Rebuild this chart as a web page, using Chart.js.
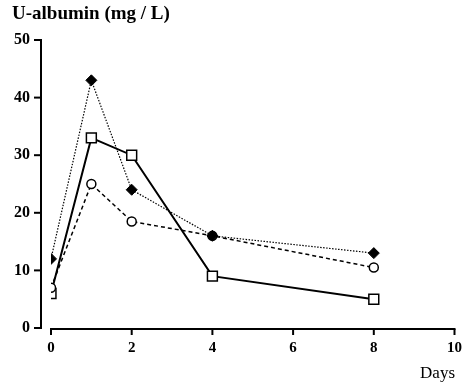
<!DOCTYPE html>
<html>
<head>
<meta charset="utf-8">
<script src="https://cdn.jsdelivr.net/npm/chart.js@4"></script>
<style>
  html, body { margin: 0; padding: 0; background: #fff; }
  #wrap { width: 465px; height: 389px; position: relative; }
</style>
</head>
<body>
<div id="wrap"><canvas id="chart"></canvas></div>
<script>
// Values
const days = [0, 1, 2, 4, 8];
const diamondSeries = [12, 43, 24, 16, 13];
const squareSeries = [6, 33, 30, 9, 5];
const circleSeries = [7, 25, 18.5, 16, 10.5];
const xTicks = [0, 2, 4, 6, 8, 10];
const yTicks = [0, 10, 20, 30, 40, 50];

const serif = '"Liberation Serif", "DejaVu Serif", serif';
const toPoints = vals => vals.map((v, i) => ({ x: days[i], y: v }));

// Draws the detached axes, title and "Days" label
const axesPlugin = {
  id: 'axes',
  afterDraw(chart) {
    const ctx = chart.ctx;
    const xs = chart.scales.x, ys = chart.scales.y;
    const area = chart.chartArea;
    const yAxisX = area.left - 10;
    ctx.save();
    ctx.strokeStyle = '#000';
    ctx.lineWidth = 2;
    // y axis
    ctx.beginPath();
    ctx.moveTo(yAxisX, ys.getPixelForValue(50) - 1);
    ctx.lineTo(yAxisX, ys.getPixelForValue(0) + 1);
    ctx.stroke();
    yTicks.forEach(t => {
      const py = ys.getPixelForValue(t);
      ctx.beginPath();
      ctx.moveTo(yAxisX - 7, py);
      ctx.lineTo(yAxisX, py);
      ctx.stroke();
    });
    // x axis
    const axY = ys.getPixelForValue(0) + 1;
    ctx.beginPath();
    ctx.moveTo(xs.getPixelForValue(0) - 1, axY);
    ctx.lineTo(xs.getPixelForValue(10) + 1, axY);
    ctx.stroke();
    xTicks.forEach(t => {
      const px = xs.getPixelForValue(t);
      ctx.beginPath();
      ctx.moveTo(px, axY);
      ctx.lineTo(px, axY + 6);
      ctx.stroke();
    });
    // texts
    ctx.fillStyle = '#000';
    ctx.textBaseline = 'alphabetic';
    ctx.textAlign = 'left';
    ctx.font = 'bold 19px ' + serif;
    ctx.fillText('U-albumin (mg / L)', 12, 19);
    ctx.font = '17px ' + serif;
    ctx.textAlign = 'right';
    ctx.fillText('Days', 455, 378);
    ctx.restore();
  }
};

new Chart(document.getElementById('chart'), {
  type: 'line',
  data: {
    datasets: [
      {
        label: 'diamond',
        data: toPoints(diamondSeries),
        borderColor: '#000',
        borderWidth: 1.2,
        borderDash: [1.5, 1.5],
        pointStyle: 'rectRot',
        pointRadius: 5.5,
        pointBackgroundColor: '#000',
        pointBorderColor: '#000',
        pointBorderWidth: 1,
        tension: 0
      },
      {
        label: 'circle',
        data: toPoints(circleSeries),
        borderColor: '#000',
        borderWidth: 1.5,
        borderDash: [4, 3],
        pointStyle: 'circle',
        pointRadius: 4.5,
        pointBackgroundColor: '#fff',
        pointBorderColor: '#000',
        pointBorderWidth: 1.5,
        tension: 0
      },
      {
        label: 'square',
        data: toPoints(squareSeries),
        borderColor: '#000',
        borderWidth: 2,
        pointStyle: 'rect',
        pointRadius: 7,
        pointBackgroundColor: '#fff',
        pointBorderColor: '#000',
        pointBorderWidth: 1.5,
        tension: 0
      }
    ]
  },
  options: {
    responsive: true,
    maintainAspectRatio: false,
    animation: false,
    layout: { padding: { top: 40, right: 7, bottom: 0, left: 0 } },
    plugins: { legend: { display: false }, tooltip: { enabled: false } },
    scales: {
      x: {
        type: 'linear',
        min: 0, max: 10,
        afterFit: s => { s.height = 61; },
        afterBuildTicks: s => { s.ticks = xTicks.map(v => ({ value: v })); },
        grid: { display: false },
        border: { display: false },
        ticks: { color: '#000', padding: 3, font: { family: serif, size: 15, weight: 'bold' } }
      },
      y: {
        min: 0, max: 50,
        afterFit: s => { s.width = 51; },
        afterBuildTicks: s => { s.ticks = yTicks.map(v => ({ value: v })); },
        grid: { display: false },
        border: { display: false },
        ticks: { color: '#000', padding: 13, font: { family: serif, size: 16, weight: 'bold' } }
      }
    }
  },
  plugins: [axesPlugin]
});
</script>
</body>
</html>
